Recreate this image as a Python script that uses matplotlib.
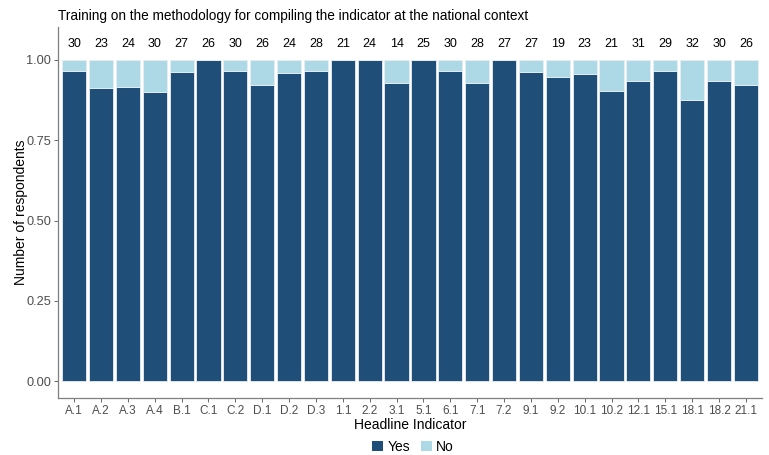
import matplotlib
matplotlib.use('Agg')
import matplotlib.pyplot as plt
from matplotlib.patches import Patch
import numpy as np

plt.rcParams['font.family'] = ['Liberation Sans', 'DejaVu Sans']

indicators = ['A.1', 'A.2', 'A.3', 'A.4', 'B.1', 'C.1', 'C.2', 'D.1', 'D.2', 'D.3',
              '1.1', '2.2', '3.1', '5.1', '6.1', '7.1', '7.2', '9.1', '9.2', '10.1',
              '10.2', '12.1', '15.1', '18.1', '18.2', '21.1']
totals = [30, 23, 24, 30, 27, 26, 30, 26, 24, 28, 21, 24, 14, 25, 30, 28, 27, 27, 19, 23,
          21, 31, 29, 32, 30, 26]
yes_counts = [29, 21, 22, 27, 26, 26, 29, 24, 23, 27, 21, 24, 13, 25, 29, 26, 27, 26, 18, 22,
              19, 29, 28, 28, 28, 24]

totals = np.array(totals)
yes_share = np.array(yes_counts) / totals
no_share = 1 - yes_share

dark = '#1f4e79'
light = '#add8e6'

fig = plt.figure(figsize=(7.69, 4.55), dpi=100)
ax = fig.add_axes([58 / 769, 1 - 398 / 455, (762 - 58) / 769, (398 - 27) / 455])

x = np.arange(len(indicators))
ax.bar(x, yes_share, width=0.9, color=dark, edgecolor='#e8eef3', linewidth=0.6)
ax.bar(x, no_share, bottom=yes_share, width=0.9, color=light, edgecolor='#e8eef3', linewidth=0.6)

# respondent counts above bars
for xi, n in zip(x, totals):
    ax.text(xi, 1.05, str(n), ha='center', va='center', fontsize=9, color='black')

ax.set_xlim(-0.6, len(indicators) - 0.4)
ax.set_ylim(-0.0525, 1.1025)
ax.set_xticks(x)
ax.set_xticklabels(indicators)
ax.set_yticks([0, 0.25, 0.5, 0.75, 1.0])
ax.set_yticklabels(['0.00', '0.25', '0.50', '0.75', '1.00'])
ax.tick_params(axis='both', colors='#4d4d4d', length=3, width=0.6, pad=2)
ax.tick_params(axis='x', labelsize=8.5)
ax.tick_params(axis='y', labelsize=9.2)

for side in ['top', 'right']:
    ax.spines[side].set_visible(False)
for side in ['left', 'bottom']:
    ax.spines[side].set_color('#7f7f7f')
    ax.spines[side].set_linewidth(0.9)

ax.set_xlabel('Headline Indicator', fontsize=10, labelpad=1)
ax.set_ylabel('Number of respondents', fontsize=10)
ax.yaxis.set_label_coords(-0.043, 0.5)
fig.text(58 / 769, 1 - 16 / 455, 'Training on the methodology for compiling the indicator at the national context',
         ha='left', va='center', fontsize=9.8)

handles = [Patch(facecolor=dark, label='Yes'), Patch(facecolor=light, label='No')]
fig.legend(handles=handles, loc='center', bbox_to_anchor=(413 / 769, 1 - 447 / 455), ncol=2,
           frameon=False, fontsize=10, handlelength=0.8, handleheight=0.8, handletextpad=0.3,
           columnspacing=0.8)

fig.savefig('out.png', dpi=100)
